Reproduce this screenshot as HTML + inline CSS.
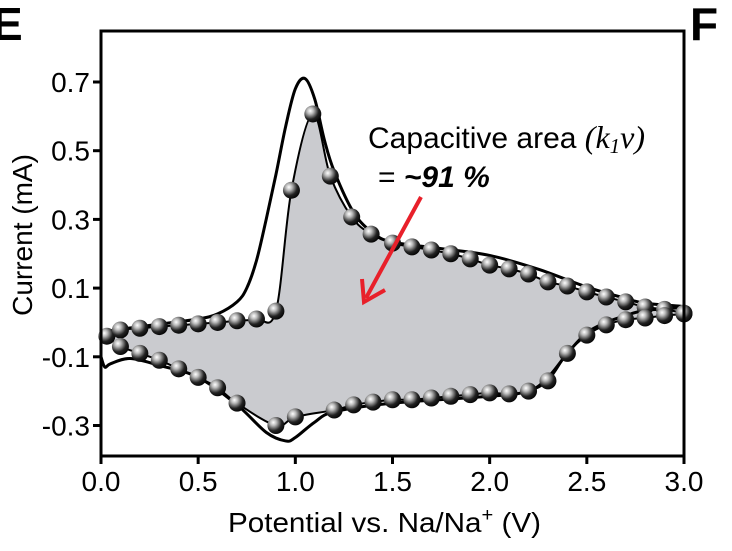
<!DOCTYPE html>
<html><head><meta charset="utf-8"><style>
body{margin:0;background:#fff}
svg text{font-family:"Liberation Sans",Arial,sans-serif}
</style></head><body>
<svg width="732" height="546" viewBox="0 0 732 546" xmlns="http://www.w3.org/2000/svg">
<defs>
<radialGradient id="ball" cx="0.35" cy="0.32" r="0.75">
<stop offset="0" stop-color="#fff"/><stop offset="0.25" stop-color="#bbb"/><stop offset="0.65" stop-color="#222"/><stop offset="1" stop-color="#000"/>
</radialGradient>
</defs>
<g id="plot"></g>
<text x="-8" y="40" font-size="46" font-weight="bold">E</text>
<text x="690" y="40" font-size="46" font-weight="bold">F</text>
<text x="368" y="148" font-size="30">Capacitive area <tspan font-family="Liberation Serif" font-style="italic" font-size="32">(k</tspan><tspan font-family="Liberation Serif" font-style="italic" font-size="21" dy="5">1</tspan><tspan font-family="Liberation Serif" font-style="italic" font-size="32" dy="-5">v)</tspan></text>
<text x="378" y="187" font-size="30" font-weight="bold"><tspan font-weight="normal">= </tspan><tspan font-style="italic">~91 %</tspan></text>
<g>
<line x1="421" y1="197" x2="366" y2="298" stroke="#e8202a" stroke-width="4"/>
<polyline points="362,279 364,302 385,290" fill="none" stroke="#e8202a" stroke-width="4"/>
</g>
<text x="228" y="532" font-size="28" textLength="313" lengthAdjust="spacingAndGlyphs">Potential vs. Na/Na<tspan font-size="19" dy="-11">+</tspan><tspan dy="11"> (V)</tspan></text>
<text transform="translate(32,235) rotate(-90)" font-size="28" text-anchor="middle">Current (mA)</text>
</svg>
<script>
const xTicks=[0,0.5,1,1.5,2,2.5,3];
const xTickLabels=["0.0","0.5","1.0","1.5","2.0","2.5","3.0"];
const yTicks=[0.7,0.5,0.3,0.1,-0.1,-0.3];
const yTickLabels=["0.7","0.5","0.3","0.1","-0.1","-0.3"];
const cvX=[0,0.1,0.3,0.5,0.6,0.7,0.75,0.8,0.85,0.9,0.95,1.0,1.05,1.1,1.15,1.2,1.3,1.4,1.5,1.75,2.0,2.25,2.5,2.7,2.8,3.0,2.8,2.7,2.6,2.5,2.4,2.3,2.2,2.0,1.5,1.2,1.1,1.0,0.95,0.85,0.7,0.5,0.3,0.15,0.05,0.02,0];
const cvY=[-0.03,-0.02,-0.005,0.01,0.025,0.06,0.1,0.18,0.3,0.43,0.57,0.68,0.71,0.65,0.53,0.44,0.32,0.26,0.234,0.215,0.195,0.155,0.103,0.07,0.056,0.045,0.035,0.02,0.0,-0.03,-0.09,-0.16,-0.2,-0.215,-0.235,-0.26,-0.29,-0.335,-0.345,-0.32,-0.24,-0.16,-0.125,-0.105,-0.12,-0.13,-0.1];
const upX=[0.03,0.1,0.2,0.3,0.4,0.5,0.6,0.7,0.8,0.9,0.98,1.09,1.18,1.29,1.39,1.5,1.6,1.7,1.8,1.9,2.0,2.1,2.2,2.3,2.4,2.5,2.6,2.7,2.8,2.9,3.0];
const upY=[-0.04,-0.022,-0.017,-0.012,-0.008,-0.004,0.0,0.005,0.01,0.033,0.385,0.607,0.426,0.307,0.257,0.231,0.22,0.211,0.2,0.185,0.167,0.156,0.141,0.118,0.106,0.089,0.074,0.06,0.045,0.038,0.027];
const loX=[3.0,2.9,2.8,2.7,2.6,2.5,2.4,2.3,2.2,2.1,2.0,1.9,1.8,1.7,1.6,1.5,1.4,1.3,1.2,1.0,0.9,0.7,0.6,0.5,0.4,0.3,0.2,0.1];
const loY=[0.025,0.02,0.013,0.008,-0.007,-0.037,-0.09,-0.17,-0.2,-0.208,-0.205,-0.21,-0.215,-0.22,-0.225,-0.225,-0.232,-0.24,-0.255,-0.275,-0.3,-0.235,-0.19,-0.16,-0.135,-0.11,-0.09,-0.07];
const L=101,R=684,T=31,B=456;
const sx=v=>L+(v-0)/3*(R-L);
const sy=v=>82+(0.7-v)*343.5;
const NS="http://www.w3.org/2000/svg";
const g=document.getElementById('plot');
function mk(t,a){const e=document.createElementNS(NS,t);for(const k in a)e.setAttribute(k,a[k]);g.appendChild(e);return e;}
function smooth(pts){let d='M'+pts[0][0]+','+pts[0][1];
for(let i=0;i<pts.length-1;i++){const p0=pts[Math.max(0,i-1)],p1=pts[i],p2=pts[i+1],p3=pts[Math.min(pts.length-1,i+2)];
const c1=[p1[0]+(p2[0]-p0[0])/6,p1[1]+(p2[1]-p0[1])/6],c2=[p2[0]-(p3[0]-p1[0])/6,p2[1]-(p3[1]-p1[1])/6];
d+=' C'+c1[0]+','+c1[1]+' '+c2[0]+','+c2[1]+' '+p2[0]+','+p2[1];}return d;}
const fpts=upX.map((x,i)=>[sx(x),sy(upY[i])]).concat(loX.map((x,i)=>[sx(x),sy(loY[i])]));
fpts.push(fpts[0]);
const fill=mk('path',{d:smooth(fpts),fill:'#cacbcf',stroke:'#000','stroke-width':2});


const cv=mk('path',{d:smooth(cvX.map((x,i)=>[sx(x),sy(cvY[i])])),fill:'none',stroke:'#000','stroke-width':3,'stroke-linejoin':'round'});


function ball(x,y){const c=mk('circle',{cx:sx(x),cy:sy(y),r:8.5,fill:'url(#ball)'});

}
upX.forEach((x,i)=>ball(x,upY[i]));
loX.forEach((x,i)=>ball(x,loY[i]));
const fr=mk('rect',{x:L,y:T,width:R-L,height:B-T,fill:'none',stroke:'#000','stroke-width':3});


xTicks.forEach((v,i)=>{mk('line',{x1:sx(v),x2:sx(v),y1:B,y2:B+8,stroke:'#000','stroke-width':3});
const t=mk('text',{x:sx(v),y:B+35,'font-size':28,'text-anchor':'middle'});t.textContent=xTickLabels[i];

});
yTicks.forEach((v,i)=>{mk('line',{x1:L-8,x2:L,y1:sy(v),y2:sy(v),stroke:'#000','stroke-width':3});
const t=mk('text',{x:L-11,y:sy(v)+10,'font-size':28,'text-anchor':'end'});t.textContent=yTickLabels[i];

});
</script>
</body></html>
